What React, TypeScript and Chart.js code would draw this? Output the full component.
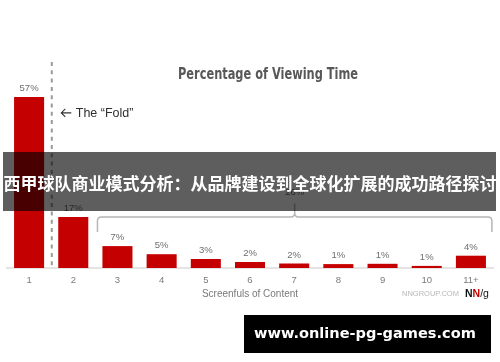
import React, { useEffect, useRef } from "react";
import { Chart, registerables } from "chart.js";

Chart.register(...registerables);

const categories = ["1", "2", "3", "4", "5", "6", "7", "8", "9", "10", "11+"];
const viewingShare = [57, 17, 7.3, 4.6, 3, 2, 1.5, 1.3, 1.4, 0.7, 4.1];
const valueLabels = ["57%", "17%", "7%", "5%", "3%", "2%", "2%", "1%", "1%", "1%", "4%"];
const bracketLabel = "26%";
const chartTitle = "Percentage of Viewing Time";
const xTitle = "Screenfuls of Content";
const foldLabel = "The \u201CFold\u201D";
const bannerText = "西甲球队商业模式分析：从品牌建设到全球化扩展的成功路径探讨";
const siteText = "www.online-pg-games.com";
const sourceText = "NNGROUP.COM";

const SANS = '"Liberation Sans", Arial, sans-serif';

const overlay = {
  id: "overlay",
  afterDatasetsDraw(chart: any) {
    const ctx = chart.ctx as CanvasRenderingContext2D;
    const meta = chart.getDatasetMeta(0);
    const xs = chart.scales.x;
    const ys = chart.scales.y;
    const area = chart.chartArea;
    ctx.save();

    // value labels
    ctx.font = `9.5px ${SANS}`;
    ctx.fillStyle = "#6e6e6e";
    ctx.textAlign = "center";
    ctx.textBaseline = "middle";
    meta.data.forEach((bar: any, i: number) => {
      ctx.fillText(valueLabels[i], bar.x, bar.y - 8.5);
    });

    // fold dashed line
    const foldX = (xs.getPixelForValue(0) + xs.getPixelForValue(1)) / 2 + 0.6;
    ctx.strokeStyle = "#9a9a9a";
    ctx.lineWidth = 2;
    ctx.setLineDash([4, 4.3]);
    ctx.beginPath();
    ctx.moveTo(foldX, area.top + 4);
    ctx.lineTo(foldX, area.bottom);
    ctx.stroke();
    ctx.setLineDash([]);

    // fold label with arrow
    const fy = ys.getPixelForValue(51.7);
    ctx.strokeStyle = "#333";
    ctx.lineWidth = 1.1;
    ctx.beginPath();
    ctx.moveTo(foldX + 19.5, fy);
    ctx.lineTo(foldX + 9.5, fy);
    ctx.moveTo(foldX + 13.5, fy - 4);
    ctx.lineTo(foldX + 9.5, fy);
    ctx.lineTo(foldX + 13.5, fy + 4);
    ctx.stroke();
    ctx.font = `12.5px ${SANS}`;
    ctx.fillStyle = "#2f2f2f";
    ctx.textAlign = "left";
    ctx.fillText(foldLabel, foldX + 24, fy + 0.5);

    // bracket over bars 3..11+
    const bx0 = xs.getPixelForValue(2) - 20;
    const bx1 = xs.getPixelForValue(10) + 21;
    const bEnd = ys.getPixelForValue(12);
    const bLine = ys.getPixelForValue(17);
    const bTip = ys.getPixelForValue(21.5);
    const bMid = (bx0 + bx1) / 2;
    const r = 4;
    ctx.strokeStyle = "#b5b5b5";
    ctx.lineWidth = 1.5;
    ctx.beginPath();
    ctx.moveTo(bx0, bEnd);
    ctx.lineTo(bx0, bLine + r);
    ctx.quadraticCurveTo(bx0, bLine, bx0 + r, bLine);
    ctx.lineTo(bMid - 4, bLine);
    ctx.quadraticCurveTo(bMid, bLine, bMid, bLine - 4);
    ctx.lineTo(bMid, bTip);
    ctx.moveTo(bMid, bLine - 4);
    ctx.quadraticCurveTo(bMid, bLine, bMid + 4, bLine);
    ctx.lineTo(bx1 - r, bLine);
    ctx.quadraticCurveTo(bx1, bLine, bx1, bLine + r);
    ctx.lineTo(bx1, bEnd);
    ctx.stroke();
    ctx.font = `9.5px ${SANS}`;
    ctx.fillStyle = "#6e6e6e";
    ctx.textAlign = "center";
    ctx.fillText(bracketLabel, bMid, bTip - 11);

    // chart title (condensed to the reference width)
    ctx.font = `bold 15px "DejaVu Sans Condensed", "DejaVu Sans", sans-serif`;
    ctx.fillStyle = "#585858";
    ctx.textAlign = "center";
    const tw = ctx.measureText(chartTitle).width;
    const sx = 180 / tw;
    ctx.save();
    ctx.translate((area.left + area.right) / 2 + 18, 75);
    ctx.scale(sx, 1);
    ctx.fillText(chartTitle, 0, 0);
    ctx.restore();

    // source
    const sy = 294;
    ctx.font = `7.5px ${SANS}`;
    ctx.fillStyle = "#b8b8b8";
    ctx.textAlign = "left";
    ctx.fillText(sourceText, 402, sy);
    let lx = 465;
    ctx.font = `bold 10.5px ${SANS}`;
    ctx.fillStyle = "#111";
    ctx.fillText("N", lx, sy);
    lx += ctx.measureText("N").width;
    ctx.fillStyle = "#c40000";
    ctx.fillText("N", lx, sy);
    lx += ctx.measureText("N").width;
    ctx.font = `10.5px ${SANS}`;
    ctx.fillStyle = "#111";
    ctx.fillText("/g", lx, sy);

    ctx.restore();
  },
  afterDraw(chart: any) {
    const ctx = chart.ctx as CanvasRenderingContext2D;
    ctx.save();
    // semi-transparent headline banner
    ctx.fillStyle = "rgba(0,0,0,0.63)";
    ctx.fillRect(3, 152, 493, 59);
    ctx.font = `bold 17px "Noto Sans CJK SC", sans-serif`;
    ctx.fillStyle = "#ffffff";
    ctx.textAlign = "center";
    ctx.textBaseline = "middle";
    ctx.fillText(bannerText, 250, 183.5);

    // black site banner
    ctx.fillStyle = "#000";
    ctx.fillRect(244, 315, 247, 38);
    let size = 17;
    ctx.font = `bold ${size}px "DejaVu Sans", sans-serif`;
    const w = ctx.measureText(siteText).width;
    size = (size * 222) / w;
    ctx.font = `bold ${size}px "DejaVu Sans", sans-serif`;
    ctx.fillStyle = "#fff";
    ctx.textAlign = "left";
    ctx.fillText(siteText, 254, 334);
    ctx.restore();
  },
};

export default function App() {
  const ref = useRef<HTMLCanvasElement | null>(null);
  useEffect(() => {
    if (!ref.current) return;
    const chart = new Chart(ref.current, {
      type: "bar",
      data: {
        labels: categories,
        datasets: [
          {
            data: viewingShare,
            backgroundColor: "#c40000",
            barPercentage: 0.68,
            categoryPercentage: 1,
          },
        ],
      },
      options: {
        responsive: false,
        animation: false,
        devicePixelRatio: 1,
        layout: { padding: { left: 7, right: 7, top: 58, bottom: 62 } },
        plugins: {
          legend: { display: false },
          tooltip: { enabled: false },
          title: { display: false },
        },
        scales: {
          x: {
            grid: { display: false, drawTicks: false },
            border: { display: true, color: "#e4e4e4", width: 2 },
            ticks: { color: "#7a7a7a", font: { family: SANS, size: 9.5 }, padding: 6.3, maxRotation: 0 },
            title: {
              display: true,
              text: xTitle,
              color: "#7a7a7a",
              font: { family: SANS, size: 10 },
              padding: { top: 0, bottom: 0 },
            },
            afterFit(scale: any) {
              scale.height = 32;
            },
          },
          y: { display: false, min: 0, max: 70 },
        },
      },
      plugins: [overlay],
    } as any);
    return () => chart.destroy();
  }, []);
  return (
    <div style={{ position: "absolute", left: 0, top: 0, width: 500, height: 362, background: "#fff" }}>
      <canvas ref={ref} width={500} height={362} style={{ display: "block" }} />
    </div>
  );
}
